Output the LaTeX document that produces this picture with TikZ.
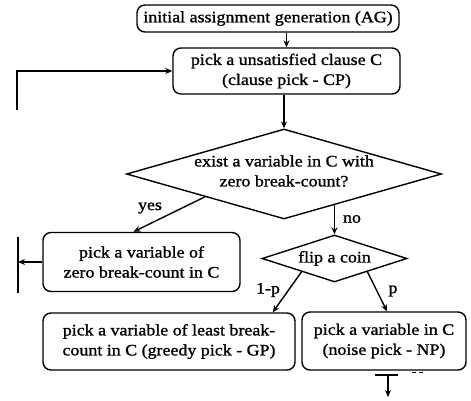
\documentclass[tikz,border=0pt]{standalone}
\usepackage{fontspec}
\setmainfont{Liberation Serif}[FakeStretch=1.12,FakeBold=1.2]
\usetikzlibrary{shapes.geometric,arrows.meta,calc}
\newcommand{\txtfont}{\fontsize{16}{20}\selectfont}
\tikzset{
  box/.style={draw, rounded corners=8pt, line width=1.4pt, inner sep=0pt, align=center, font=\txtfont},
  decision/.style={draw, diamond, line width=1.4pt, inner sep=0pt},
  lbl/.style={font=\txtfont, inner sep=0pt},
  arr/.style={line width=1.4pt, -{Stealth[length=7pt,width=6pt]}},
  ln/.style={line width=1.4pt}
}
\begin{document}
\begin{tikzpicture}[x=1pt,y=-1pt]
\useasboundingbox (0,0) rectangle (471,400);
\node[box, minimum width=262, minimum height=27] (AG) at (268,18.5) {initial assignment generation (AG)};
\node[box, minimum width=227, minimum height=46] (CP) at (286.5,71) {pick a unsatisfied clause C\\(clause pick - CP)};
\node[decision, minimum width=315, minimum height=90] (Q1) at (284,174) {};
\node[lbl, align=center] (Q1t) at (284,171) {exist a variable in C with\\zero break-count?};
\node[box, minimum width=197, minimum height=59] (ZB) at (141.5,262) {pick a variable of\\zero break-count in C};
\node[decision, minimum width=145, minimum height=47] (FL) at (334.5,258.5) {};
\node[lbl] (FLt) at (334.5,258.5) {flip a coin};
\node[box, minimum width=252, minimum height=57] (GP) at (169,341.5) {pick a variable of least break-\\count in C (greedy pick - GP)};
\node[box, minimum width=164, minimum height=58] (NP) at (384,341) {pick a variable in C\\(noise pick - NP)};

\node[lbl] (yes) at (150,208) {yes};
\node[lbl] (no) at (352,219) {no};
\node[lbl] (omp) at (268,290) {1-p};
\node[lbl] (p) at (393,291) {p};

\draw[arr] (AG.south -| CP.north) -- (CP.north);
\draw[arr] (CP.south -| Q1.north) -- (Q1.north);
\coordinate (yesS) at ($(Q1.west)!0.5!(Q1.south)$);
\coordinate (yesE) at ($(ZB.north)+(-8,0)$);
\draw[arr] (yesS) -- (yesE);
\coordinate (noS) at ($(Q1.south)!0.32!(Q1.east)$);
\draw[arr] (FL.north |- noS) -- (FL.north);
\coordinate (gpS) at ($(FL.west)!0.55!(FL.south)$);
\coordinate (gpE) at ($(GP.north east)+(-23,0)$);
\draw[arr] (gpS) -- (gpE);
\coordinate (npS) at ($(FL.south)!0.45!(FL.east)$);
\coordinate (npE) at ($(NP.north)+(3,0)$);
\draw[arr] (npS) -- (npE);

% loop pieces as printed
\coordinate (L1) at (18,237);
\coordinate (L2) at (18,293);
\draw[ln] (L1) -- (L2);
\draw[arr] (ZB.west) -- (ZB.west -| L1);
\coordinate (L3) at (17,110);
\draw[arr] (L3) |- (CP.west);

% bottom exit
\coordinate (B1) at (375,375);
\coordinate (B2) at (398,375);
\coordinate (B3) at (388,375);
\coordinate (B4) at (388,397);
\draw[ln] (B1) -- (B2);
\draw[arr] (B3) -- (B4);
\coordinate (D1) at (412,372);
\coordinate (D2) at (424,372);
\draw[line width=0.8pt, dash pattern=on 4pt off 3pt] (D1) -- (D2);
\end{tikzpicture}
\end{document}
